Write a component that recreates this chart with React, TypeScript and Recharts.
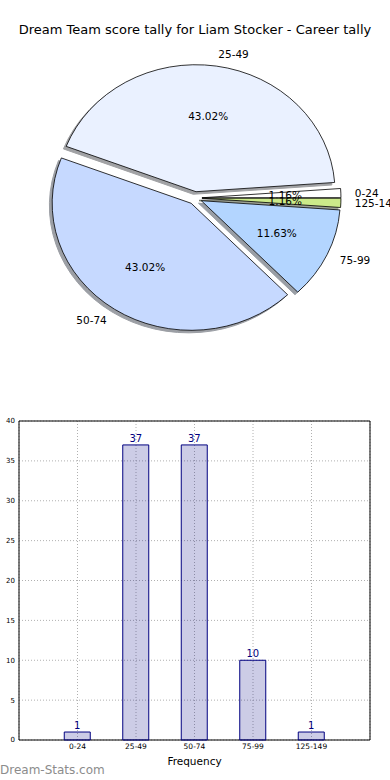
import React from 'react';
import { PieChart, Pie, BarChart, Bar, XAxis, YAxis, CartesianGrid, LabelList, ReferenceArea } from 'recharts';

// ---- data ----
const categories = ['0-24', '25-49', '50-74', '75-99', '125-149'];
const counts = [1, 37, 37, 10, 1];
const pieColors = ['#FFFFFF', '#EAF1FF', '#C6D9FF', '#B3D5FF', '#CCEB8A'];
const yTicks = [0, 5, 10, 15, 20, 25, 30, 35, 40];
const xTicks = [0, 1, 2, 3, 4];
const titleText = 'Dream Team score tally for Liam Stocker - Career tally';

const pieData = categories.map((name, i) => ({ name, value: counts[i] }));
const barData = categories.map((name, i) => ({ pos: i, name, count: counts[i] }));

const FONT = '"DejaVu Sans", "Liberation Sans", sans-serif';
const RY_SCALE = 127 / 139;
const EXPLODE = 0.05;
const RAD = Math.PI / 180;

function geom(p: any) {
  const rx = p.outerRadius;
  const ry = rx * RY_SCALE;
  const mid = (p.startAngle + p.endAngle) / 2;
  const ox = p.cx + EXPLODE * rx * Math.cos(mid * RAD);
  const oy = p.cy - EXPLODE * ry * Math.sin(mid * RAD);
  return { rx, ry, mid, ox, oy };
}

function wedgePath(ox: number, oy: number, rx: number, ry: number, a0: number, a1: number) {
  const x0 = ox + rx * Math.cos(a0 * RAD);
  const y0 = oy - ry * Math.sin(a0 * RAD);
  const x1 = ox + rx * Math.cos(a1 * RAD);
  const y1 = oy - ry * Math.sin(a1 * RAD);
  const large = Math.abs(a1 - a0) > 180 ? 1 : 0;
  return `M${ox},${oy} L${x0},${y0} A${rx},${ry} 0 ${large} 0 ${x1},${y1} Z`;
}

function shadowColor(hex: string) {
  const n = parseInt(hex.slice(1), 16);
  const r = Math.round(((n >> 16) & 255) * 0.3);
  const g = Math.round(((n >> 8) & 255) * 0.3);
  const b = Math.round((n & 255) * 0.3);
  return `rgb(${r},${g},${b})`;
}

const renderShadow = (p: any) => {
  const { rx, ry, ox, oy } = geom(p);
  const c = shadowColor(pieColors[p.index]);
  return (
    <path
      key={`sh-${p.index}`}
      d={wedgePath(ox - 0.02 * rx, oy + 0.02 * ry, rx, ry, p.startAngle, p.endAngle)}
      fill={c}
      stroke={c}
      strokeWidth={1}
      opacity={0.5}
    />
  );
};

const renderWedge = (p: any) => {
  const { rx, ry, mid, ox, oy } = geom(p);
  const cosm = Math.cos(mid * RAD);
  const sinm = Math.sin(mid * RAD);
  const px = ox + 0.6 * rx * cosm;
  const py = oy - 0.6 * ry * sinm;
  const lx = ox + 1.1 * rx * cosm;
  const ly = oy - 1.1 * ry * sinm;
  return (
    <g key={`w-${p.index}`}>
      <path
        d={wedgePath(ox, oy, rx, ry, p.startAngle, p.endAngle)}
        fill={pieColors[p.index]}
        stroke="#000"
        strokeWidth={0.8}
      />
      <text x={px} y={py} textAnchor="middle" dominantBaseline="central" fontSize={10.5} fontFamily={FONT} fill="#000">
        {`${(p.percent * 100).toFixed(2)}%`}
      </text>
      <text x={lx} y={ly} textAnchor={cosm > 0 ? 'start' : 'end'} dominantBaseline="central" fontSize={10.5} fontFamily={FONT} fill="#000">
        {p.name}
      </text>
    </g>
  );
};

export default function App() {
  return (
    <div style={{ position: 'absolute', left: 0, top: 0, width: 390, height: 780, background: '#fff', fontFamily: FONT, overflow: 'hidden' }}>
      <div style={{ position: 'absolute', left: 0, top: 22, width: 390, textAlign: 'center', fontSize: 13, lineHeight: '16px', color: '#000', whiteSpace: 'nowrap' }}>
        {titleText}
      </div>
      <div style={{ position: 'absolute', left: 0, top: 0 }}>
        <PieChart width={390} height={390} margin={{ top: 0, right: 0, bottom: 0, left: 0 }}>
          <Pie
            data={pieData}
            dataKey="value"
            nameKey="name"
            cx={195}
            cy={198}
            outerRadius={139}
            startAngle={0}
            endAngle={360}
            fill="none"
            stroke="none"
            label={renderShadow}
            labelLine={false}
            isAnimationActive={false}
          />
          <Pie
            data={pieData}
            dataKey="value"
            nameKey="name"
            cx={195}
            cy={198}
            outerRadius={139}
            startAngle={0}
            endAngle={360}
            fill="none"
            stroke="none"
            label={renderWedge}
            labelLine={false}
            isAnimationActive={false}
          />
        </PieChart>
      </div>
      <div style={{ position: 'absolute', left: 0, top: 410 }}>
        <BarChart width={390} height={370} data={barData} margin={{ top: 11, right: 20, bottom: 14, left: 0 }}>
          <CartesianGrid stroke="#b0b0b0" strokeDasharray="1 2" />
          <XAxis
            dataKey="pos"
            type="number"
            domain={[-1, 5]}
            ticks={xTicks}
            tickFormatter={(v: number) => categories[v]}
            height={26}
            axisLine={false}
            tickLine={false}
            tickSize={2}
            tickMargin={2}
            tick={{ fontSize: 7.5, fill: '#000', fontFamily: FONT }}
            interval={0}
            label={{ value: 'Frequency', position: 'insideBottom', offset: 1, fontSize: 10.5, fill: '#000', fontFamily: FONT }}
          />
          <YAxis
            type="number"
            domain={[0, 40]}
            ticks={yTicks}
            width={19}
            axisLine={false}
            tickLine={false}
            tickSize={2}
            tickMargin={2}
            tick={{ fontSize: 7, fill: '#000', fontFamily: FONT }}
            interval={0}
          />
          <ReferenceArea x1={-1} x2={5} y1={0} y2={40} fill="none" stroke="#000" strokeWidth={1} ifOverflow="visible" />
          <Bar dataKey="count" barSize={26} fill="#000080" fillOpacity={0.2} stroke="#000080" strokeWidth={1} isAnimationActive={false}>
            <LabelList dataKey="count" position="top" offset={3} fill="#000080" fontSize={10} fontFamily={FONT} />
          </Bar>
        </BarChart>
      </div>
      <div style={{ position: 'absolute', left: 0, top: 762, fontSize: 12, lineHeight: '16px', color: '#8c8c8c', whiteSpace: 'nowrap' }}>
        Dream-Stats.com
      </div>
    </div>
  );
}
